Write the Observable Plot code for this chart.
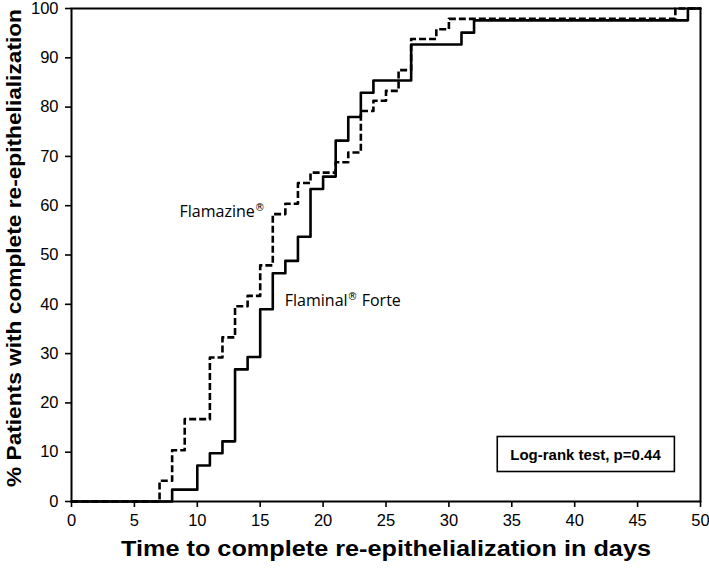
<!DOCTYPE html>
<html>
<head>
<meta charset="utf-8">
<script src="https://cdn.jsdelivr.net/npm/d3@7"></script>
<script src="https://cdn.jsdelivr.net/npm/@observablehq/plot@0.6"></script>
<style>
  html, body { margin: 0; padding: 0; background: #fff; }
  #chart { width: 709px; height: 573px; }
</style>
</head>
<body>
<div id="chart"></div>
<script>
// Flamazine® (dashed) — cumulative % re-epithelialized by day
const flamazineDays = [0, 7, 8, 9, 11, 12, 13, 14, 15, 16, 17, 18, 19, 21, 22, 23, 24, 25, 26, 27, 29, 30, 48, 50];
const flamazinePct  = [0, 4.2, 10.4, 16.7, 29.2, 33.3, 39.6, 41.7, 47.9, 58.3, 60.4, 64.6, 66.7, 68.8, 70.8, 79.2, 81.3, 83.3, 87.5, 93.8, 95.8, 97.9, 100, 100];
// Flaminal® Forte (solid)
const flaminalDays = [0, 8, 10, 11, 12, 13, 14, 15, 16, 17, 18, 19, 20, 21, 22, 23, 24, 27, 31, 32, 49, 50];
const flaminalPct  = [0, 2.4, 7.3, 9.8, 12.2, 26.8, 29.3, 39.0, 46.3, 48.8, 53.7, 63.4, 65.9, 73.2, 78.0, 82.9, 85.4, 92.7, 95.1, 97.6, 100, 100];

const seriesNames = ["Flamazine®", "Flaminal® Forte"];
const labelDay = [16, 16]; // day at which each series label is attached
const xTicks = [0, 5, 10, 15, 20, 25, 30, 35, 40, 45, 50];
const yTicks = [0, 10, 20, 30, 40, 50, 60, 70, 80, 90, 100];
const xTitle = "Time to complete re-epithelialization in days";
const yTitle = "% Patients with complete re-epithelialization";
const testNote = "Log-rank test, p=0.44";

const flamazine = flamazineDays.map((d, i) => ({day: d, pct: flamazinePct[i]}));
const flaminal = flaminalDays.map((d, i) => ({day: d, pct: flaminalPct[i]}));
const pointAt = (series, day) => series.find(p => p.day === day);
const flamLabel = [{...pointAt(flamazine, labelDay[0]), text: seriesNames[0]}];
// Flaminal label sits at the level held just before its step at labelDay
const fortIdx = flaminal.findIndex(p => p.day === labelDay[1]);
const fortLabel = [{day: labelDay[1], pct: flaminal[fortIdx - 1].pct, text: seriesNames[1]}];

const tickFont = "Liberation Sans, Arial, sans-serif";
const boldFont = "Liberation Sans, Arial, sans-serif";

const chart = Plot.plot({
  width: 709,
  height: 573,
  marginLeft: 71,
  marginRight: 9,
  marginTop: 8,
  marginBottom: 72,
  style: {fontFamily: tickFont, fontSize: "16.5px", color: "#000", background: "#fff"},
  x: {domain: [0, 50]},
  y: {domain: [0, 100]},
  marks: [
    Plot.axisX({ticks: xTicks, tickSize: 6, tickPadding: 7, label: null, stroke: "#000", strokeWidth: 1.6, fill: "#000"}),
    Plot.axisY({ticks: yTicks, tickSize: 6, tickPadding: 7, label: null, stroke: "#000", strokeWidth: 1.6, fill: "#000"}),
    Plot.line(flamazine, {x: "day", y: "pct", curve: "step-after", stroke: "#000", strokeWidth: 2.6, strokeDasharray: "7,3", strokeLinecap: "butt"}),
    Plot.line(flaminal, {x: "day", y: "pct", curve: "step-after", stroke: "#000", strokeWidth: 2.6}),
    Plot.frame({stroke: "#000", strokeWidth: 2}),
    Plot.text(flamLabel, {x: "day", y: "pct", text: "text", textAnchor: "end", dx: -8, dy: -2, fontFamily: "Open Sans, sans-serif", fontSize: 16, fill: "#000"}),
    Plot.text(fortLabel, {x: "day", y: "pct", text: "text", textAnchor: "start", dx: 12, dy: -8, fontFamily: "Open Sans, sans-serif", fontSize: 16, fill: "#000"}),
    Plot.text([testNote], {frameAnchor: "bottom-right", dx: -115, dy: -42, text: d => d, textAnchor: "middle", fontFamily: boldFont, fontSize: 15, fontWeight: "bold", fill: "#000"}),
    Plot.text([xTitle], {frameAnchor: "bottom", dy: 54, text: d => d, textAnchor: "middle", fontFamily: boldFont, fontSize: 22, fontWeight: "bold", fill: "#000"}),
    Plot.text([yTitle], {frameAnchor: "left", dx: -57, dy: -7, rotate: -90, text: d => d, textAnchor: "middle", fontFamily: boldFont, fontSize: 20, fontWeight: "bold", fill: "#000"})
  ]
});
document.getElementById("chart").appendChild(chart);

const NS = "http://www.w3.org/2000/svg";
const svg = chart.tagName.toLowerCase() === "svg" ? chart : chart.querySelector("svg");
svg.querySelectorAll("text").forEach(t => {
  const s = t.textContent;
  if (s === testNote) {
    // box around the log-rank note, sized to its text
    const b = t.getBBox();
    const r = document.createElementNS(NS, "rect");
    r.setAttribute("x", b.x - 13);
    r.setAttribute("y", b.y - 9);
    r.setAttribute("width", b.width + 26);
    r.setAttribute("height", b.height + 18);
    r.setAttribute("fill", "none");
    r.setAttribute("stroke", "#000");
    r.setAttribute("stroke-width", 1.6);
    if (t.getAttribute("transform")) r.setAttribute("transform", t.getAttribute("transform"));
    t.parentNode.insertBefore(r, t);
  } else if (s === xTitle) {
    t.setAttribute("textLength", 530);
    t.setAttribute("lengthAdjust", "spacingAndGlyphs");
  } else if (s === yTitle) {
    t.setAttribute("textLength", 478);
    t.setAttribute("lengthAdjust", "spacingAndGlyphs");
  } else if (seriesNames.includes(s)) {
    // superscript registered sign
    const [before, after] = s.split("®");
    t.textContent = "";
    t.appendChild(document.createTextNode(before));
    const sup = document.createElementNS(NS, "tspan");
    sup.setAttribute("font-size", "10");
    sup.setAttribute("font-family", "DejaVu Sans, sans-serif");
    sup.setAttribute("fill", "#000");
    sup.setAttribute("dy", "-6");
    sup.textContent = "®";
    t.appendChild(sup);
    if (after) {
      const rest = document.createElementNS(NS, "tspan");
      rest.setAttribute("dy", "6");
      rest.textContent = after;
      t.appendChild(rest);
    }
  }
});
</script>
</body>
</html>
